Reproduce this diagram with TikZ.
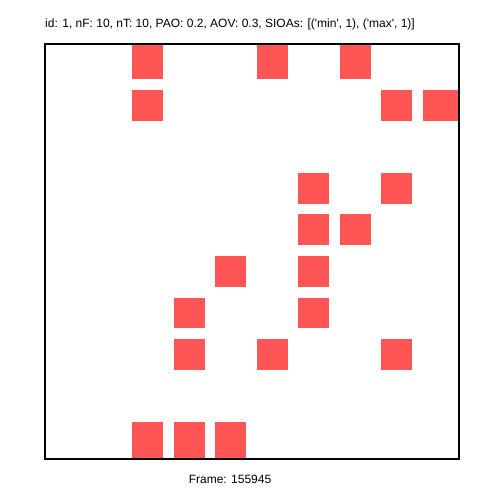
\documentclass[tikz,border=0pt]{standalone}
\usepackage{fontspec}
\setmainfont{Liberation Sans}
\definecolor{cell}{HTML}{FF5555}
\begin{document}
\begin{tikzpicture}[x=1pt,y=-1pt,
  cellbox/.style={fill=cell,draw=none},
  lab/.style={font=\fontsize{12}{14}\selectfont,inner sep=0pt,anchor=base}]
\useasboundingbox (0,0) rectangle (502,502);
\fill[white] (0,0) rectangle (502,502);
% columns left: 49.3+41.5c ; rows top: 48.5+41.5r ; size 30.7
\foreach \c/\r in {2/0,5/0,7/0, 2/1,8/1,9/1, 6/3,8/3, 6/4,7/4, 4/5,6/5, 3/6,6/6, 3/7,5/7,8/7, 2/9,3/9,4/9}{
  \pgfmathsetmacro{\xl}{49.3+41.5*\c}
  \pgfmathsetmacro{\yt}{\r==0 ? 43.5 : 48.5+41.5*\r}
  \pgfmathsetmacro{\xr}{\c==9 ? 458 : 49.3+41.5*\c+30.7}
  \pgfmathsetmacro{\yb}{\r==9 ? 458 : 48.5+41.5*\r+30.7}
  \fill[cell] (\xl,\yt) rectangle (\xr,\yb);
}
\node[draw=black,line width=2pt,minimum width=414.5pt,minimum height=414.5pt,inner sep=0pt,anchor=north west] (frame) at (43.5,43.5) {};
\node[lab] (title) at (230,27.5) {id: 1, nF: 10, nT: 10, PAO: 0.2, AOV: 0.3, SIOAs: [(\textquotesingle min\textquotesingle, 1), (\textquotesingle max\textquotesingle, 1)]};
\node[lab] (frm) at (230,483) {Frame: 155945};
\end{tikzpicture}
\end{document}
